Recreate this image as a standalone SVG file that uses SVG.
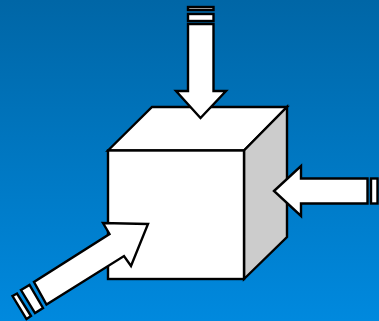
<svg xmlns="http://www.w3.org/2000/svg" width="379" height="321" viewBox="0 0 379 321">
<defs>
<linearGradient id="bg" x1="0" y1="0" x2="0" y2="1"><stop offset="0" stop-color="#0066a6"/><stop offset="1" stop-color="#0089de"/></linearGradient>
</defs>
<style>
.s{fill:#fff;stroke:#000;stroke-width:2.4;stroke-linejoin:miter}
.g{fill:#cccccc;stroke:#000;stroke-width:2.4;stroke-linejoin:miter}
</style>
<rect id="background" width="379" height="321" fill="url(#bg)"/>
<g id="cube">
<polygon class="s" points="108,150.5 152,107 287,107 244,150.5"/>
<polygon class="g" points="244,150.5 287,107 287,237 244,279"/>
<rect class="s" x="108" y="150.5" width="136" height="128.500"/>
</g>
<g id="arrow-top">
<rect class="s" x="188" y="7" width="25.500" height="3"/>
<rect class="s" x="188" y="14" width="25.500" height="7"/>
<polygon class="s" points="188,24 213.500,24 213.500,91 226,91 200.500,118 176,91 188,91"/>
</g>
<g id="arrow-right">
<polygon class="s" points="274,191 301,166 301,178.500 367.500,178.500 367.500,203.500 301,203.500 301,216"/>
<rect class="s" x="371" y="178.500" width="6.500" height="25"/>
</g>
<g id="arrow-left">
<polygon class="s" points="148,224 103,223 109.500,234 34,282 46.500,304.500 124,256 131,266"/>
<polygon class="s" points="21,290 29.500,285 43,308 35,313"/>
<polygon class="s" points="12.500,296 17,293.500 31,316 26.500,319"/>
</g>
</svg>
